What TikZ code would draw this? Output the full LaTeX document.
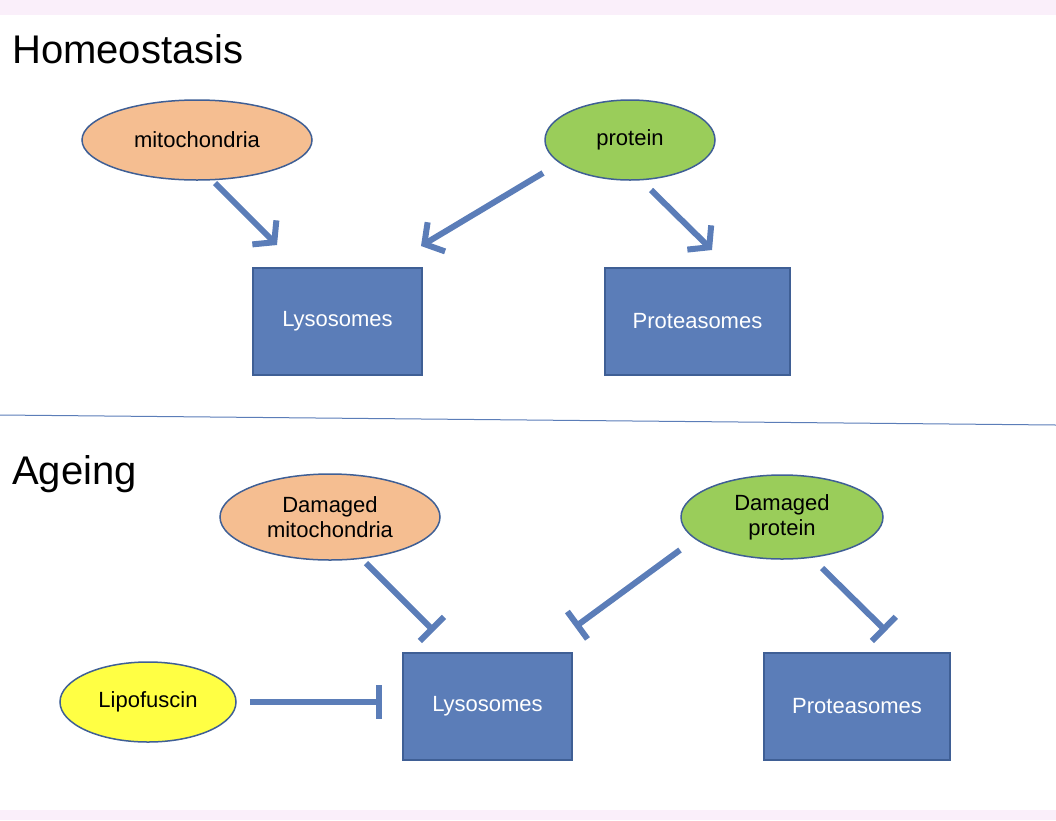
\documentclass[tikz,border=0pt]{standalone}
\usepackage{fontspec}
\setmainfont{Liberation Sans}
\usetikzlibrary{shapes.geometric,arrows.meta}
\definecolor{boxblue}{HTML}{5B7DB8}
\definecolor{edge}{HTML}{3F5F95}
\definecolor{orng}{HTML}{F5BE91}
\definecolor{grn}{HTML}{9ACD5A}
\definecolor{yel}{HTML}{FFFF44}
\definecolor{band}{HTML}{FAEFFA}
\begin{document}
\begin{tikzpicture}[x=1pt,y=-1pt,
  ell/.style={ellipse,draw=edge,line width=1.5pt,inner sep=0pt,font=\fontsize{22}{25}\selectfont,align=center},
  box/.style={rectangle,draw=edge,line width=1.5pt,fill=boxblue,text=white,font=\fontsize{22}{25}\selectfont,inner sep=0pt},
  act/.style={draw=boxblue,line width=6pt,-{Straight Barb[length=14pt,width=34pt,line width=6pt]}},
  inh/.style={draw=boxblue,line width=6pt,-{Bar[width=34pt,line width=6pt]}},
  ttl/.style={anchor=base west,font=\fontsize{40}{44}\selectfont,inner sep=0pt}]
\useasboundingbox (0,0) rectangle (1056,820);
\fill[band] (0,0) rectangle (1056,15);
\fill[band] (0,810) rectangle (1056,820);
\node[ttl] (h) at (12,63) {Homeostasis};
\node[ttl] (a) at (12,484) {Ageing};
\draw[boxblue,line width=1pt] (0,415) -- (1056,425);
\node[ell,fill=orng,minimum width=230pt,minimum height=80pt] (mito) at (197,140) {mitochondria};
\node[ell,fill=grn,minimum width=170pt,minimum height=80pt] (prot) at (630,140) {protein};
\node[box,minimum width=169pt,minimum height=107pt] (lys) at (337.5,321.5) {Lysosomes};
\node[box,minimum width=185pt,minimum height=107pt] (pro) at (697.5,321.5) {Proteasomes};
\node[ell,fill=orng,minimum width=220pt,minimum height=86pt] (dmito) at (330,517) {Damaged\\mitochondria};
\node[ell,fill=grn,minimum width=202pt,minimum height=84pt] (dprot) at (782,517) {Damaged\\protein};
\node[ell,fill=yel,minimum width=176pt,minimum height=80pt] (lipo) at (148,702) {Lipofuscin};
\node[box,minimum width=169pt,minimum height=107pt] (lys2) at (487.5,706.5) {Lysosomes};
\node[box,minimum width=186pt,minimum height=107pt] (pro2) at (857,706.5) {Proteasomes};
\coordinate (a1s) at (215,183); \coordinate (a1e) at (277,245);
\coordinate (a2s) at (543,173); \coordinate (a2e) at (421,246);
\coordinate (a3s) at (651,190); \coordinate (a3e) at (712,250);
\coordinate (i1s) at (366,563); \coordinate (i1e) at (434,631);
\coordinate (i2s) at (680,550); \coordinate (i2e) at (575,627);
\coordinate (i3s) at (822,568); \coordinate (i3e) at (886,631);
\coordinate (i4s) at (250,702); \coordinate (i4e) at (382,702);
\draw[act] (a1s) -- (a1e);
\draw[act] (a2s) -- (a2e);
\draw[act] (a3s) -- (a3e);
\draw[inh] (i1s) -- (i1e);
\draw[inh] (i2s) -- (i2e);
\draw[inh] (i3s) -- (i3e);
\draw[inh] (i4s) -- (i4e);
\end{tikzpicture}
\end{document}
